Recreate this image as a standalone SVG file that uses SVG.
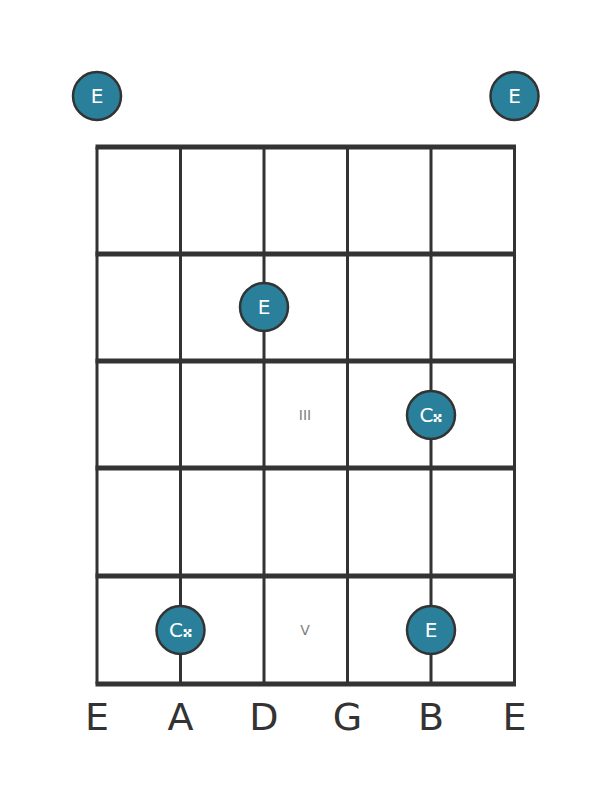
<svg xmlns="http://www.w3.org/2000/svg" width="611" height="801" viewBox="0 0 611 801">
<style>
.str{stroke:#333;stroke-width:3}
.fret{stroke:#333;stroke-width:5}
.dot{fill:#2a7f9b;stroke:#333;stroke-width:2.5}
.dt{fill:#fff;font-family:"DejaVu Sans",sans-serif;font-size:20px;text-anchor:middle;dominant-baseline:central}
.pos{fill:#808080;font-family:"DejaVu Sans",sans-serif;font-size:14px;text-anchor:middle;dominant-baseline:central}
.sn{fill:#333;font-family:"DejaVu Sans",sans-serif;font-size:38px;text-anchor:middle;dominant-baseline:central}
</style>
<rect width="611" height="801" fill="#fff"/>
<g id="connectors">
<line class="str" x1="97" y1="147" x2="97" y2="684"/>
<line class="str" x1="180.5" y1="147" x2="180.5" y2="684"/>
<line class="str" x1="264" y1="147" x2="264" y2="684"/>
<line class="str" x1="347.5" y1="147" x2="347.5" y2="684"/>
<line class="str" x1="431" y1="147" x2="431" y2="684"/>
<line class="str" x1="514.5" y1="147" x2="514.5" y2="684"/>
<line class="fret" x1="95.5" y1="147" x2="516" y2="147"/>
<line class="fret" x1="95.5" y1="254" x2="516" y2="254"/>
<line class="fret" x1="95.5" y1="361" x2="516" y2="361"/>
<line class="fret" x1="95.5" y1="468" x2="516" y2="468"/>
<line class="fret" x1="95.5" y1="576" x2="516" y2="576"/>
<line class="fret" x1="95.5" y1="684" x2="516" y2="684"/>
</g>
<g id="pos3"><text class="pos" x="305" y="415">III</text></g>
<g id="pos5"><text class="pos" x="305" y="630">V</text></g>
<g id="open-e6"><circle class="dot" cx="97" cy="96" r="24"/><text class="dt" x="97" y="96">E</text></g>
<g id="open-e1"><circle class="dot" cx="514.5" cy="96" r="24"/><text class="dt" x="514.5" y="96">E</text></g>
<g id="d-e"><circle class="dot" cx="264" cy="307" r="24"/><text class="dt" x="264" y="307">E</text></g>
<g id="b-cxx"><circle class="dot" cx="431" cy="415" r="24"/><text class="dt" x="431" y="415">C&#x1D12A;</text></g>
<g id="a-cxx"><circle class="dot" cx="180.5" cy="630" r="24"/><text class="dt" x="180.5" y="630">C&#x1D12A;</text></g>
<g id="b-e"><circle class="dot" cx="431" cy="630" r="24"/><text class="dt" x="431" y="630">E</text></g>
<g id="string-names">
<text class="sn" x="97" y="717">E</text>
<text class="sn" x="180.5" y="717">A</text>
<text class="sn" x="264" y="717">D</text>
<text class="sn" x="347.5" y="717">G</text>
<text class="sn" x="431" y="717">B</text>
<text class="sn" x="514.5" y="717">E</text>
</g>
</svg>
